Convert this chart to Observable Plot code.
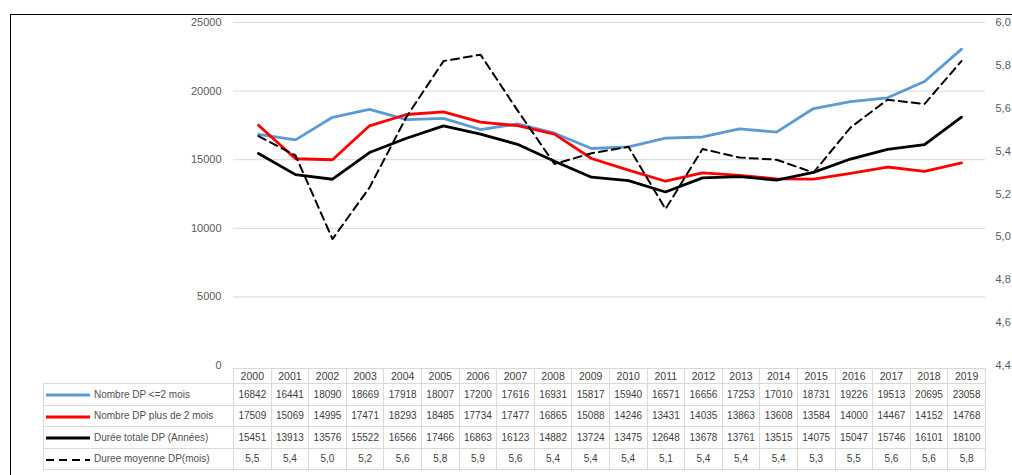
<!DOCTYPE html>
<html><head><meta charset="utf-8">
<script src="https://cdn.jsdelivr.net/npm/d3@7"></script>
<script src="https://cdn.jsdelivr.net/npm/@observablehq/plot@0.6"></script>
<style>
body{margin:0;background:#fff;overflow:hidden;font-family:"Liberation Sans",Arial,sans-serif;width:1012px;height:475px;position:relative;}
#frame{position:absolute;left:10px;top:14px;width:1100px;height:600px;border:1.3px solid #000;box-sizing:border-box;z-index:5;pointer-events:none;}
#chart{position:absolute;left:0;top:0;}
#tbl{position:absolute;left:43px;top:368px;border-collapse:collapse;table-layout:fixed;font-size:10px;color:#404040;width:942px;}
#tbl td{border:1px solid #d9d9d9;padding:0;text-align:center;height:20.5px;white-space:nowrap;overflow:hidden;}
#tbl tr.head td{height:14px;font-size:10.5px;}
#tbl tr.head td.blank{border:none;}
#tbl td.lab{text-align:left;padding-left:2px;color:#505050;}
#tbl td.lab svg{vertical-align:middle;margin-right:4px;}
</style></head>
<body>
<div id="chart"></div>
<div id="frame"></div>
<table id="tbl"></table>
<script>
const years = [2000,2001,2002,2003,2004,2005,2006,2007,2008,2009,2010,2011,2012,2013,2014,2015,2016,2017,2018,2019];
const nbCourt = [16842,16441,18090,18669,17918,18007,17200,17616,16931,15817,15940,16571,16656,17253,17010,18731,19226,19513,20695,23058];
const nbLong = [17509,15069,14995,17471,18293,18485,17734,17477,16865,15088,14246,13431,14035,13863,13608,13584,14000,14467,14152,14768];
const dureeTotale = [15451,13913,13576,15522,16566,17466,16863,16123,14882,13724,13475,12648,13678,13761,13515,14075,15047,15746,16101,18100];
// mean duration as drawn and as printed in the table
const dureeMoyenne = [5.47,5.38,4.99,5.23,5.56,5.82,5.85,5.59,5.34,5.39,5.42,5.13,5.41,5.37,5.36,5.30,5.51,5.64,5.62,5.82];
const dureeMoyenneLabels = ["5,5","5,4","5,0","5,2","5,6","5,8","5,9","5,6","5,4","5,4","5,4","5,1","5,4","5,4","5,4","5,3","5,5","5,6","5,6","5,8"];
const seriesNames = ["Nombre DP <=2 mois","Nombre DP plus de 2 mois","Durée totale DP (Années)","Duree moyenne DP(mois)"];
const leftTicks = [0,5000,10000,15000,20000,25000];
const rightTicks = [4.4,4.6,4.8,5.0,5.2,5.4,5.6,5.8,6.0];
const colors = ["#5b9bd5","#ff0000","#000000","#000000"];

const yMax = 25000, rMin = 4.4, rMax = 6.0;
const toLeft = v => (v - rMin) / (rMax - rMin) * yMax;

const rows = (vals) => years.map((y,i) => ({year:y, v:vals[i]}));

const chart = Plot.plot({
  width: 1012, height: 370,
  marginLeft: 233, marginRight: 27, marginTop: 22, marginBottom: 5,
  style: {fontFamily: '"Liberation Sans", Arial, sans-serif', fontSize: "11px", color: "#595959", background: "transparent", overflow: "visible"},
  x: {type: "point", domain: years, padding: 0.5, axis: null},
  y: {domain: [0, yMax], axis: null},
  marks: [
    Plot.ruleY(leftTicks.filter(d => d > 0), {stroke: "#d9d9d9", strokeWidth: 1}),
    Plot.axisY(leftTicks, {anchor: "left", label: null, tickSize: 0, tickPadding: 12, tickFormat: d => String(d), fill: "#595959"}),
    Plot.axisY(rightTicks.map(toLeft), {anchor: "right", label: null, tickSize: 0, tickPadding: 10, fill: "#595959",
      tickFormat: d => (rMin + d / yMax * (rMax - rMin)).toFixed(1).replace(".", ",")}),
    Plot.line(rows(nbCourt), {x: "year", y: "v", stroke: colors[0], strokeWidth: 2.8}),
    Plot.line(rows(nbLong), {x: "year", y: "v", stroke: colors[1], strokeWidth: 2.8}),
    Plot.line(rows(dureeTotale), {x: "year", y: "v", stroke: colors[2], strokeWidth: 2.8}),
    Plot.line(rows(dureeMoyenne), {x: "year", y: d => toLeft(d.v), stroke: colors[3], strokeWidth: 2, strokeDasharray: "8,5"})
  ]
});
document.getElementById("chart").appendChild(chart);

// data table below the chart
const tbl = document.getElementById("tbl");
const cg = document.createElement("colgroup");
const c0 = document.createElement("col"); c0.style.width = "190px"; cg.appendChild(c0);
years.forEach(() => { const c = document.createElement("col"); c.style.width = "37.6px"; cg.appendChild(c); });
tbl.appendChild(cg);
const head = document.createElement("tr"); head.className = "head";
const blank = document.createElement("td"); blank.className = "blank"; head.appendChild(blank);
years.forEach(y => { const td = document.createElement("td"); td.textContent = y; head.appendChild(td); });
tbl.appendChild(head);
const tableVals = [nbCourt.map(String), nbLong.map(String), dureeTotale.map(String), dureeMoyenneLabels];
seriesNames.forEach((name, k) => {
  const tr = document.createElement("tr");
  const lab = document.createElement("td"); lab.className = "lab";
  const dash = k === 3 ? ' stroke-dasharray="8,5"' : '';
  const sw = k === 3 ? 2 : 3;
  lab.innerHTML = `<svg width="44" height="6"><line x1="0" x2="44" y1="3" y2="3" stroke="${colors[k]}" stroke-width="${sw}"${dash}/></svg><span>${name.replace("<","&lt;")}</span>`;
  tr.appendChild(lab);
  tableVals[k].forEach(v => { const td = document.createElement("td"); td.textContent = v; tr.appendChild(td); });
  tbl.appendChild(tr);
});
</script>
</body></html>
